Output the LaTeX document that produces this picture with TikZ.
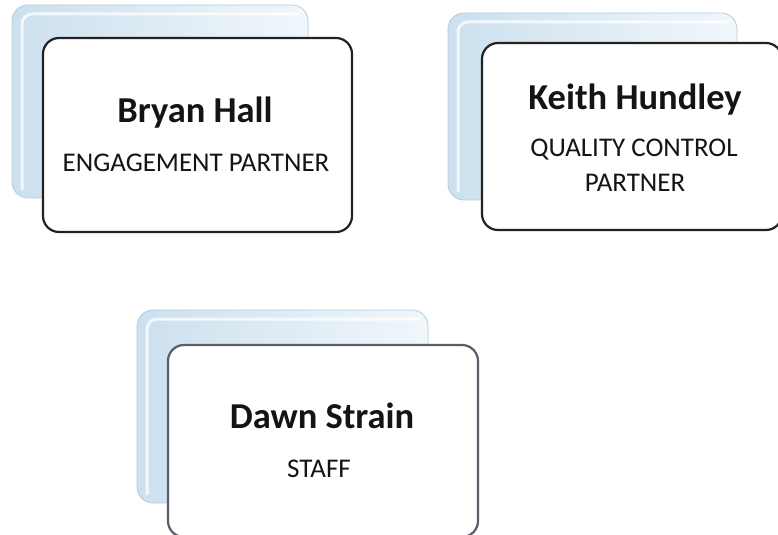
\documentclass[tikz,border=0pt]{standalone}
\usepackage{fontspec}
\setmainfont{Carlito}
\definecolor{cardL}{HTML}{CCE0EE}
\definecolor{cardR}{HTML}{F1F7FB}
\definecolor{cardE}{HTML}{B4CCDD}
\definecolor{frameA}{HTML}{222222}
\definecolor{frameB}{HTML}{5A5E6A}
\definecolor{ink}{HTML}{141414}
\begin{document}
\begin{tikzpicture}[x=1bp,y=-1bp,
  backcard/.style={rounded corners=16bp, left color=cardL, right color=cardR, draw=cardE, line width=0.8bp},
  gloss/.style={draw=white, opacity=0.75, line width=3bp, rounded corners=10bp},
  frontcard/.style={rounded corners=16bp, fill=white, line width=2.2bp, anchor=north west, inner sep=0pt, outer sep=0pt},
  namefont/.style={font=\bfseries\fontsize{36.5bp}{42bp}\selectfont, text=ink, anchor=base, inner sep=0pt},
  rolefont/.style={font=\fontsize{27bp}{32bp}\selectfont, text=ink, anchor=base, inner sep=0pt}
]
\useasboundingbox (0,0) rectangle (778,535);
\clip (0,0) rectangle (778,535);

% card 1
\draw[backcard] (12,5) rectangle (308,198);
\draw[gloss] (22,190) -- (22,14) -- (300,14);
\node[frontcard, draw=frameA, minimum width=309bp, minimum height=194bp] (box1) at (43,38) {};
\node[namefont] (name1) at (195,123) {Bryan Hall};
\node[rolefont] (role1) at (196,172) {ENGAGEMENT PARTNER};

% card 2
\draw[backcard] (448,13) rectangle (737,200);
\draw[gloss] (458,192) -- (458,22) -- (729,22);
\node[frontcard, draw=frameA, minimum width=300bp, minimum height=187bp] (box2) at (482,43) {};
\node[namefont] (name2) at (635,110) {Keith Hundley};
\node[rolefont] (role2a) at (634,157) {QUALITY CONTROL};
\node[rolefont] (role2b) at (635,192) {PARTNER};

% card 3
\draw[backcard] (137,310) rectangle (428,503);
\draw[gloss] (147,495) -- (147,319) -- (420,319);
\node[frontcard, draw=frameB, minimum width=310bp, minimum height=192bp] (box3) at (168,345) {};
\node[namefont] (name3) at (322,428) {Dawn Strain};
\node[rolefont] (role3) at (319,477) {STAFF};
\end{tikzpicture}
\end{document}
